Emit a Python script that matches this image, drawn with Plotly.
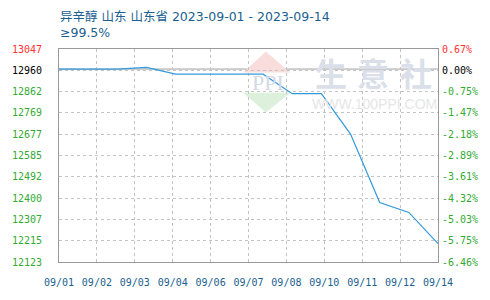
import plotly.graph_objects as go
from datetime import datetime, timedelta

# ---- data ----
dates = ["2023-09-01", "2023-09-02", "2023-09-03", "2023-09-04", "2023-09-05",
         "2023-09-06", "2023-09-07", "2023-09-08", "2023-09-09", "2023-09-10",
         "2023-09-11", "2023-09-12", "2023-09-13", "2023-09-14"]
prices = [12960, 12960, 12960, 12967, 12938, 12938, 12938, 12938, 12853, 12853,
          12678, 12381, 12338, 12203]
base_price = 12960
y_min, y_max = 12123, 13047
left_tick_labels = ["12123", "12215", "12307", "12400", "12492", "12585",
                    "12677", "12769", "12862", "12960", "13047"]
right_tick_labels = ["-6.46%", "-5.75%", "-5.03%", "-4.32%", "-3.61%", "-2.89%",
                     "-2.18%", "-1.47%", "-0.75%", "0.00%", "0.67%"]
x_tick_labels = ["09/01", "09/02", "09/03", "09/04", "09/06", "09/07",
                 "09/08", "09/10", "09/11", "09/12", "09/14"]
title_line1 = "异辛醇 山东 山东省 2023-09-01 - 2023-09-14"
title_line2 = "≥99.5%"

# ---- styles ----
GREEN = "#33aa33"
RED = "#ff3333"
BLACK = "#000000"
BLUE_TXT = "#1a5f8f"
LINE = "#3399dd"
FRAME = "#999999"
GRID = "#c4c4c4"
MONO = "DejaVu Sans Mono, monospace"

n_t = len(left_tick_labels)
y_ticks = [y_min + i * (y_max - y_min) / (n_t - 1) for i in range(n_t)]


def lab_color(i):
    if i == n_t - 1:
        return RED
    if i == n_t - 2:
        return BLACK
    return GREEN


left_text = [f"<span style='color:{lab_color(i)}'>{t}</span>" for i, t in enumerate(left_tick_labels)]
right_text = [f"<span style='color:{lab_color(i)}'>{t}</span>" for i, t in enumerate(right_tick_labels)]

start = datetime.strptime(dates[0], "%Y-%m-%d")
end = datetime.strptime(dates[-1], "%Y-%m-%d")
span_days = (end - start).days
n_x = len(x_tick_labels)
x_ticks = [start + timedelta(days=span_days * i / (n_x - 1)) for i in range(n_x)]

fig = go.Figure()
fig.add_trace(go.Scatter(x=dates, y=prices, mode="lines",
                         line=dict(color=LINE, width=1.2), hoverinfo="skip",
                         showlegend=False))
# invisible trace for right axis
fig.add_trace(go.Scatter(x=[dates[0]], y=[base_price], yaxis="y2", mode="markers",
                         marker=dict(opacity=0), hoverinfo="skip", showlegend=False))

L, R, T, B = 51, 50, 49, 30
W, H = 490, 300
pw, ph = W - L - R, H - T - B


def px(x):
    return (x - L) / pw


def py(y):
    return (H - B - y) / ph


fig.update_layout(
    width=W, height=H,
    margin=dict(l=L, r=R, t=T, b=B, pad=0),
    paper_bgcolor="white", plot_bgcolor="white",
    showlegend=False,
    xaxis=dict(
        type="date", range=[start, end],
        tickvals=x_ticks, ticktext=x_tick_labels,
        tickfont=dict(family=MONO, size=10, color=BLUE_TXT),
        showgrid=True, gridcolor=GRID, griddash="3px,3px", gridwidth=1,
        showline=True, linecolor=FRAME, linewidth=1, mirror=True,
        ticks="", ticklabelstandoff=11, zeroline=False,
    ),
    yaxis=dict(
        range=[y_min, y_max],
        tickvals=y_ticks, ticktext=left_text,
        tickfont=dict(family=MONO, size=10, color=GREEN),
        showgrid=True, gridcolor=GRID, griddash="3px,3px", gridwidth=1,
        showline=True, linecolor=FRAME, linewidth=1, mirror=True,
        ticks="", ticklabelstandoff=14, zeroline=False,
    ),
    yaxis2=dict(
        range=[y_min, y_max], overlaying="y", side="right",
        tickvals=y_ticks, ticktext=right_text,
        tickfont=dict(family=MONO, size=10, color=GREEN),
        showgrid=False, showline=False, zeroline=False,
        ticks="", ticklabelstandoff=3,
    ),
)

# baseline at base price
fig.add_shape(type="line", xref="paper", yref="y", x0=0, x1=1, y0=base_price, y1=base_price,
              line=dict(color="#a0a0a0", width=1), layer="between")

# watermark logo
fig.add_shape(type="path", xref="paper", yref="paper", layer="below",
              path=f"M {px(263.3)},{py(51.7)} L {px(240)},{py(73.3)} L {px(288.3)},{py(73.3)} Z",
              fillcolor="#f9dcdc", line=dict(width=0))
fig.add_shape(type="path", xref="paper", yref="paper", layer="below",
              path=f"M {px(240)},{py(94.3)} L {px(288.3)},{py(94.3)} L {px(263.3)},{py(115)} Z",
              fillcolor="#dcf0dc", line=dict(width=0))

WM = "#dadfea"
annos = [
    dict(text=title_line1, x=px(50), y=py(15), font=dict(family="DejaVu Sans, Noto Sans CJK SC", size=12.5, color=BLUE_TXT), xanchor="left"),
    dict(text=title_line2, x=px(50), y=py(31.7), font=dict(family="DejaVu Sans, Noto Sans CJK SC", size=12.5, color=BLUE_TXT), xanchor="left"),
    dict(text="PPI", x=px(265.5), y=py(83.5), font=dict(family="Liberation Serif, serif", size=22, color="#d3d9e8"), xanchor="center"),
    dict(text="生", x=px(330), y=py(72.5), font=dict(family="Noto Sans CJK SC", size=32, color=WM, weight="bold"), xanchor="center"),
    dict(text="意", x=px(373), y=py(72.5), font=dict(family="Noto Sans CJK SC", size=32, color=WM, weight="bold"), xanchor="center"),
    dict(text="社", x=px(417), y=py(72.5), font=dict(family="Noto Sans CJK SC", size=32, color=WM, weight="bold"), xanchor="center"),
    dict(text="WWW.100PPI.COM", x=px(375), y=py(106), font=dict(family="Liberation Sans, Arial", size=14, color="#e6e6e6"), xanchor="center"),
]
for a in annos:
    fig.add_annotation(xref="paper", yref="paper", showarrow=False, yanchor="middle", **a)

fig.write_html("out.html")
